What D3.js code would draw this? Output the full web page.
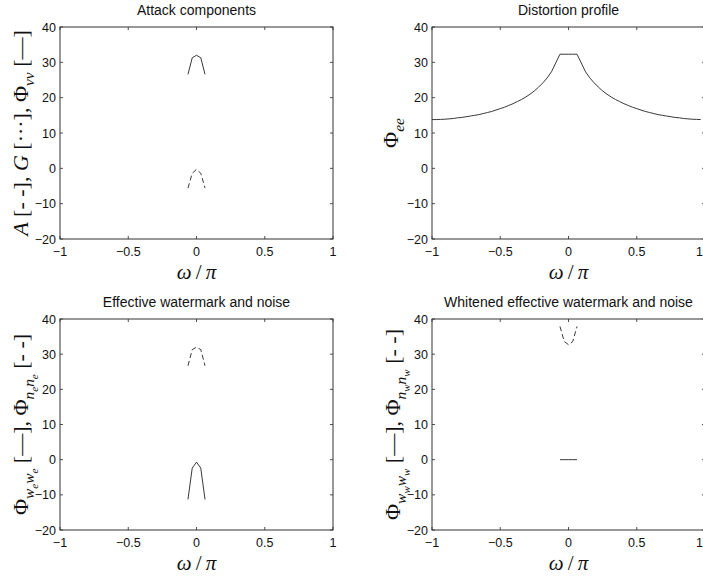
<!DOCTYPE html>
<html>
<head>
<meta charset="utf-8">
<script src="https://cdn.jsdelivr.net/npm/d3@7/dist/d3.min.js"></script>
<style>
  html, body { margin: 0; padding: 0; background: #fff; }
  svg { display: block; }
  .tick-label { font-family: "Liberation Sans", Arial, Helvetica, sans-serif; font-size: 12.5px; fill: #111; }
  .title { font-family: "Liberation Sans", Arial, Helvetica, sans-serif; font-size: 14px; fill: #111; }
  .math { font-family: "Liberation Serif", "Times New Roman", serif; fill: #111; }
</style>
</head>
<body>
<svg id="fig" width="703" height="579"></svg>
<script>
// Normalised frequency grids (omega / pi)
const omegaNear = [-0.0625, -0.03125, 0, 0.03125, 0.0625];
const omegaFull = [
  -1, -0.96875, -0.9375, -0.90625, -0.875, -0.84375, -0.8125, -0.78125,
  -0.75, -0.71875, -0.6875, -0.65625, -0.625, -0.59375, -0.5625, -0.53125,
  -0.5, -0.46875, -0.4375, -0.40625, -0.375, -0.34375, -0.3125, -0.28125,
  -0.25, -0.21875, -0.1875, -0.15625, -0.125, -0.09375, -0.0625, -0.03125,
  0, 0.03125, 0.0625, 0.09375, 0.125, 0.15625, 0.1875, 0.21875,
  0.25, 0.28125, 0.3125, 0.34375, 0.375, 0.40625, 0.4375, 0.46875,
  0.5, 0.53125, 0.5625, 0.59375, 0.625, 0.65625, 0.6875, 0.71875,
  0.75, 0.78125, 0.8125, 0.84375, 0.875, 0.90625, 0.9375, 0.96875
];

// Attack components (dB)
const phiVV = [26.6, 31.3, 32.0, 31.3, 26.6];
const attackA = [-5.6, -1.4, -0.3, -1.4, -5.6];

// Distortion profile (dB)
const phiEE = [
  13.8, 13.8, 13.85, 13.9, 14.0, 14.1, 14.3, 14.4,
  14.6, 14.8, 15.0, 15.2, 15.5, 15.8, 16.1, 16.5,
  16.9, 17.3, 17.8, 18.3, 18.9, 19.5, 20.2, 21.0,
  21.9, 23.0, 24.2, 25.6, 27.3, 29.8, 32.3, 32.3,
  32.3, 32.3, 32.3, 29.8, 27.3, 25.6, 24.2, 23.0,
  21.9, 21.0, 20.2, 19.5, 18.9, 18.3, 17.8, 17.3,
  16.9, 16.5, 16.1, 15.8, 15.5, 15.2, 15.0, 14.8,
  14.6, 14.4, 14.3, 14.1, 14.0, 13.9, 13.85, 13.8
];

// Effective watermark and noise (dB)
const phiWeWe = [-11.3, -2.4, -0.7, -2.4, -11.3];
const phiNeNe = [26.7, 31.3, 32.0, 31.3, 26.7];

// Whitened effective watermark and noise (dB)
const phiWwWw = [0, 0, 0, 0, 0];
const phiNwNw = [37.9, 33.6, 32.7, 33.6, 37.9];

// Axis ticks
const xTicks = [-1, -0.5, 0, 0.5, 1];
const xTickLabels = ["\u22121", "\u22120.5", "0", "0.5", "1"];
const yTicks = [-20, -10, 0, 10, 20, 30, 40];
const yTickLabels = ["\u221220", "\u221210", "0", "10", "20", "30", "40"];

const titles = [
  "Attack components",
  "Distortion profile",
  "Effective watermark and noise",
  "Whitened effective watermark and noise"
];

const svg = d3.select("#fig");
const W = 703;

const panels = [
  { left: 60, top: 27, width: 273, height: 212, title: titles[0],
    series: [ { x: omegaNear, y: phiVV, dash: null },
              { x: omegaNear, y: attackA, dash: "5,3" } ],
    ylabel: "p1", ylabelX: 20 },
  { left: 432, top: 27, width: 273, height: 212, title: titles[1],
    series: [ { x: omegaFull, y: phiEE, dash: null } ],
    ylabel: "p2", ylabelX: 390 },
  { left: 60, top: 319, width: 273, height: 211, title: titles[2],
    series: [ { x: omegaNear, y: phiWeWe, dash: null },
              { x: omegaNear, y: phiNeNe, dash: "5,3" } ],
    ylabel: "p3", ylabelX: 20 },
  { left: 432, top: 319, width: 273, height: 211, title: titles[3],
    series: [ { x: omegaNear, y: phiWwWw, dash: null },
              { x: omegaNear, y: phiNwNw, dash: "5,3" } ],
    ylabel: "p4", ylabelX: 392 }
];

// Writes a run of math text: parts are [text, italic?, subscript level]
function mathText(sel, parts, size) {
  const shift = [0, 0.28 * size, 0.45 * size];
  const scale = [1, 0.7, 0.5];
  let prev = 0;
  parts.forEach(p => {
    const lvl = p[2] || 0;
    const t = sel.append("tspan").text(p[0])
      .attr("font-size", size * scale[lvl])
      .attr("dy", shift[lvl] - prev);
    prev = shift[lvl];
    if (p[1]) t.attr("font-style", "italic");
  });
}

const ylabelParts = {
  p1: [["A", true], [" [- -], ", false], ["G", true], [" [\u00B7\u00B7\u00B7], \u03A6", false], ["vv", true, 1], [" [\u2014]", false]],
  p2: [["\u03A6", false], ["ee", true, 1]],
  p3: [["\u03A6", false], ["w", true, 1], ["e", true, 2], ["w", true, 1], ["e", true, 2], [" [\u2014], \u03A6", false], ["n", true, 1], ["e", true, 2], ["n", true, 1], ["e", true, 2], [" [- -]", false]],
  p4: [["\u03A6", false], ["w", true, 1], ["w", true, 2], ["w", true, 1], ["w", true, 2], [" [\u2014], \u03A6", false], ["n", true, 1], ["w", true, 2], ["n", true, 1], ["w", true, 2], [" [- -]", false]]
};

panels.forEach(p => {
  const x = d3.scaleLinear().domain([-1, 1]).range([p.left, p.left + p.width]);
  const y = d3.scaleLinear().domain([-20, 40]).range([p.top + p.height, p.top]);
  const g = svg.append("g");

  // inward tick marks on all four sides
  const tl = 3;
  xTicks.forEach(v => {
    g.append("line").attr("x1", x(v)).attr("x2", x(v))
      .attr("y1", p.top + p.height).attr("y2", p.top + p.height - tl)
      .attr("stroke", "#222").attr("stroke-width", 0.8);
    g.append("line").attr("x1", x(v)).attr("x2", x(v))
      .attr("y1", p.top).attr("y2", p.top + tl)
      .attr("stroke", "#222").attr("stroke-width", 0.8);
  });
  yTicks.forEach(v => {
    g.append("line").attr("x1", p.left).attr("x2", p.left + tl)
      .attr("y1", y(v)).attr("y2", y(v))
      .attr("stroke", "#222").attr("stroke-width", 0.8);
    g.append("line").attr("x1", p.left + p.width).attr("x2", p.left + p.width - tl)
      .attr("y1", y(v)).attr("y2", y(v))
      .attr("stroke", "#222").attr("stroke-width", 0.8);
  });

  // box
  g.append("rect").attr("x", p.left).attr("y", p.top)
    .attr("width", p.width).attr("height", p.height)
    .attr("fill", "none").attr("stroke", "#333").attr("stroke-width", 1);

  // tick labels (kept inside the canvas at the right edge)
  xTicks.forEach((v, i) => {
    const px = x(v);
    const t = g.append("text").attr("class", "tick-label")
      .attr("y", p.top + p.height + 17).text(xTickLabels[i]);
    if (px + 4 > W) t.attr("x", W).attr("text-anchor", "end");
    else t.attr("x", px).attr("text-anchor", "middle");
  });
  yTicks.forEach((v, i) => {
    g.append("text").attr("class", "tick-label")
      .attr("x", p.left - 4).attr("y", y(v) + 4.5)
      .attr("text-anchor", "end").text(yTickLabels[i]);
  });

  // title
  g.append("text").attr("class", "title")
    .attr("x", p.left + p.width / 2).attr("y", p.top - 12)
    .attr("text-anchor", "middle").text(p.title);

  // x label  omega / pi
  const xl = g.append("text").attr("class", "math")
    .attr("x", p.left + p.width / 2).attr("y", p.top + p.height + 40)
    .attr("text-anchor", "middle");
  mathText(xl, [["\u03C9", true], ["\u2009/\u2009", false], ["\u03C0", true]], 21);

  // y label
  const cy = p.top + p.height / 2;
  const yl = g.append("text").attr("class", "math")
    .attr("transform", `translate(${p.ylabelX + 8},${cy}) rotate(-90)`)
    .attr("text-anchor", "middle");
  mathText(yl, ylabelParts[p.ylabel], 22);

  // curves
  const line = d3.line().x(d => x(d[0])).y(d => y(d[1]));
  p.series.forEach(s => {
    const pts = s.x.map((v, i) => [v, s.y[i]]);
    g.append("path").attr("d", line(pts))
      .attr("fill", "none").attr("stroke", "#222").attr("stroke-width", 0.9)
      .attr("stroke-dasharray", s.dash);
  });
});
</script>
</body>
</html>
